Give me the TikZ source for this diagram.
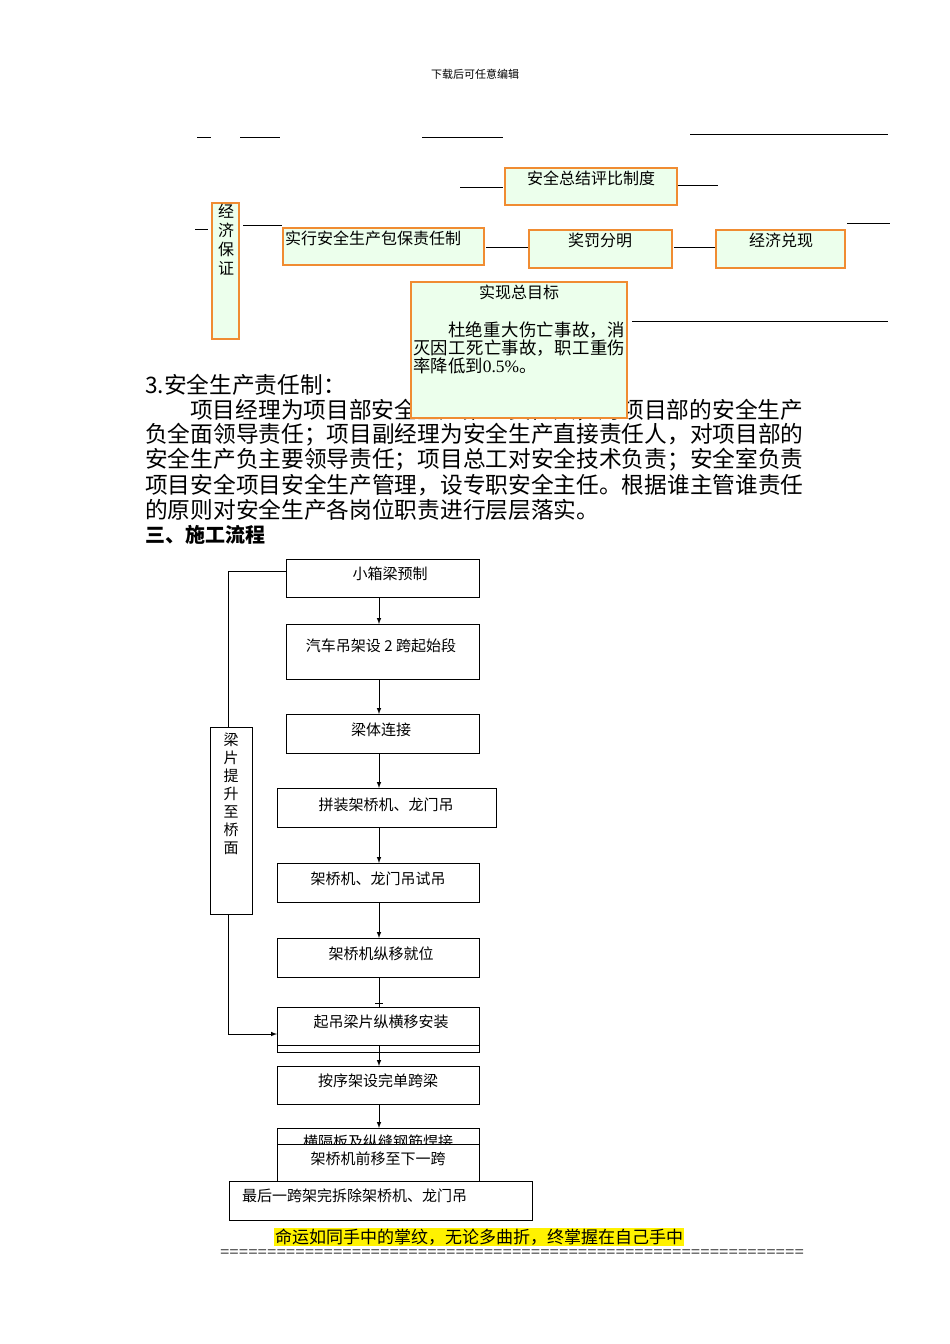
\documentclass[tikz,border=0pt]{standalone}
\usepackage{fontspec}
\setmainfont{Liberation Serif}
\newfontfamily\cjk{Noto Sans CJK SC}
\XeTeXlinebreaklocale "zh"
\XeTeXlinebreakskip=0pt plus 1pt
\definecolor{ob}{RGB}{240,140,50}
\definecolor{gf}{RGB}{236,255,236}
\begin{document}
\begin{tikzpicture}[x=1pt,y=-1pt,
 obox/.style={draw=ob,line width=1.3pt,fill=gf},
 fbox/.style={draw=black,line width=1pt,fill=white},
 ln/.style={line width=1pt},
 arr/.style={line width=1pt,-latex},
 t16/.style={font=\cjk\fontsize{16}{19}\selectfont,inner sep=0pt},
 t15/.style={font=\cjk\fontsize{15}{18}\selectfont,inner sep=0pt},
 body/.style={font=\cjk\fontsize{22.7}{25}\selectfont,inner sep=0pt,anchor=west}]
\useasboundingbox (0,0) rectangle (950,1344);
\node[font=\cjk\fontsize{11}{13}\selectfont] (hdr) at (475,74) {下载后可任意编辑};
% top stray lines
\draw[ln] (197,137)--(211,137);
\draw[ln] (240,137)--(280,137);
\draw[ln] (422,137)--(503,137);
\draw[ln] (690,134)--(888,134);
\draw[ln] (460,187)--(503,187);
\draw[ln] (678,185)--(718,185);
\draw[ln] (195,229)--(208,229);
\draw[ln] (243,225)--(282,225);
\draw[ln] (486,247)--(528,247);
\draw[ln] (674,247)--(716,247);
\draw[ln] (847,223)--(890,223);
\draw[ln] (632,321)--(888,321);
% top boxes
\draw[obox] (505,168) rectangle (677,205);
\node[t16] (a1) at (591,178) {安全总结评比制度};
\draw[obox] (212,203) rectangle (239,339);
\node[t16,align=center,anchor=north] (a2) at (226,204) {经\\济\\保\\证};
\draw[obox] (283,228) rectangle (484,265);
\node[t16,anchor=west] (a3) at (285,238) {实行安全生产包保责任制};
\draw[obox] (529,230) rectangle (672,268);
\node[t16] (a4) at (600,240) {奖罚分明};
\draw[obox] (716,230) rectangle (845,268);
\node[t16] (a5) at (781,240) {经济兑现};
% paragraph
\node[body] (p0) at (145,385) {3.安全生产责任制：};
\node[body] (p1) at (190,410) {项目经理为项目部安全生产第一责任人，对项目部的安全生产};
\node[body] (p2) at (145,435) {负全面领导责任；项目副经理为安全生产直接责任人，对项目部的};
\node[body] (p3) at (145,460) {安全生产负主要领导责任；项目总工对安全技术负责；安全室负责};
\node[body] (p4) at (145,485) {项目安全项目安全生产管理，设专职安全主任。根据谁主管谁责任};
\node[body] (p5) at (145,510) {的原则对安全生产各岗位职责进行层层落实。};
\node[body,font=\cjk\bfseries\fontsize{20}{24}\selectfont] (p6) at (145,535) {三、施工流程};
% goal box
\draw[obox] (411,282) rectangle (627,418);
\node[t16] (g1) at (519,292) {实现总目标};
\node[font=\cjk\fontsize{17.4}{18}\selectfont,inner sep=0pt,anchor=north west,text width=212pt,align=justify] (g2) at (413,321)
 {\hspace*{2em}杜绝重大伤亡事故，消灭因工死亡事故，职工重伤率降低到{\rmfamily 0.5\%}。};
% flowchart loop
\coordinate (l1) at (228,571);
\coordinate (l2) at (228,1034);
\draw[ln] (286,571)--(l1)--(l2);
\draw[arr] (l2)--(277,1034);
\draw[fbox] (210,727) rectangle (252,914);
\node[t15,align=center,anchor=north] (v) at (231,733) {梁\\片\\提\\升\\至\\桥\\面};
% flowchart boxes
\draw[fbox] (286,559) rectangle (479,597); \node[t15] (b1) at (390,574) {小箱梁预制};
\draw[fbox] (286,624) rectangle (479,679); \node[t15] (b2) at (381,646) {汽车吊架设 2 跨起始段};
\draw[fbox] (286,714) rectangle (479,753); \node[t15] (b3) at (381,730) {梁体连接};
\draw[fbox] (277,788) rectangle (496,827); \node[t15] (b4) at (386,805) {拼装架桥机、龙门吊};
\draw[fbox] (277,863) rectangle (479,902); \node[t15] (b5) at (378,879) {架桥机、龙门吊试吊};
\draw[fbox] (277,938) rectangle (479,977); \node[t15] (b6) at (381,954) {架桥机纵移就位};
\draw[fbox] (277,1007) rectangle (479,1052); \draw[ln] (277,1045)--(479,1045);
\node[t15] (b7) at (381,1022) {起吊梁片纵横移安装};
\draw[fbox] (277,1066) rectangle (479,1104); \node[t15] (b8) at (378,1081) {按序架设完单跨梁};
\draw[fbox] (277,1128) rectangle (479,1144); \node[t15] (b9) at (378,1142) {横隔板及纵缝钢筋焊接};
\draw[fbox] (277,1144) rectangle (479,1185); \node[t15] (b10) at (378,1159) {架桥机前移至下一跨};
\draw[fbox] (229,1181) rectangle (532,1220); \node[t15,anchor=west] (b11) at (242,1196) {最后一跨架完拆除架桥机、龙门吊};
% arrows
\draw[arr] (379,597)--(379,624);
\draw[arr] (379,679)--(379,714);
\draw[arr] (379,753)--(379,788);
\draw[arr] (379,827)--(379,863);
\draw[arr] (379,902)--(379,938);
\draw[ln] (379,977)--(379,1007); \draw[ln] (375,1003)--(383,1003);
\draw[arr] (379,1045)--(379,1066);
\draw[arr] (379,1104)--(379,1128);
% footer
\node[font=\cjk\fontsize{17}{19}\selectfont,fill=yellow,inner sep=1pt] (ft) at (479,1237) {命运如同手中的掌纹，无论多曲折，终掌握在自己手中};
\node[font=\rmfamily\fontsize{16.7}{18}\selectfont,inner sep=0pt] (eq) at (512,1254) {==============================================================};
\end{tikzpicture}
\end{document}
